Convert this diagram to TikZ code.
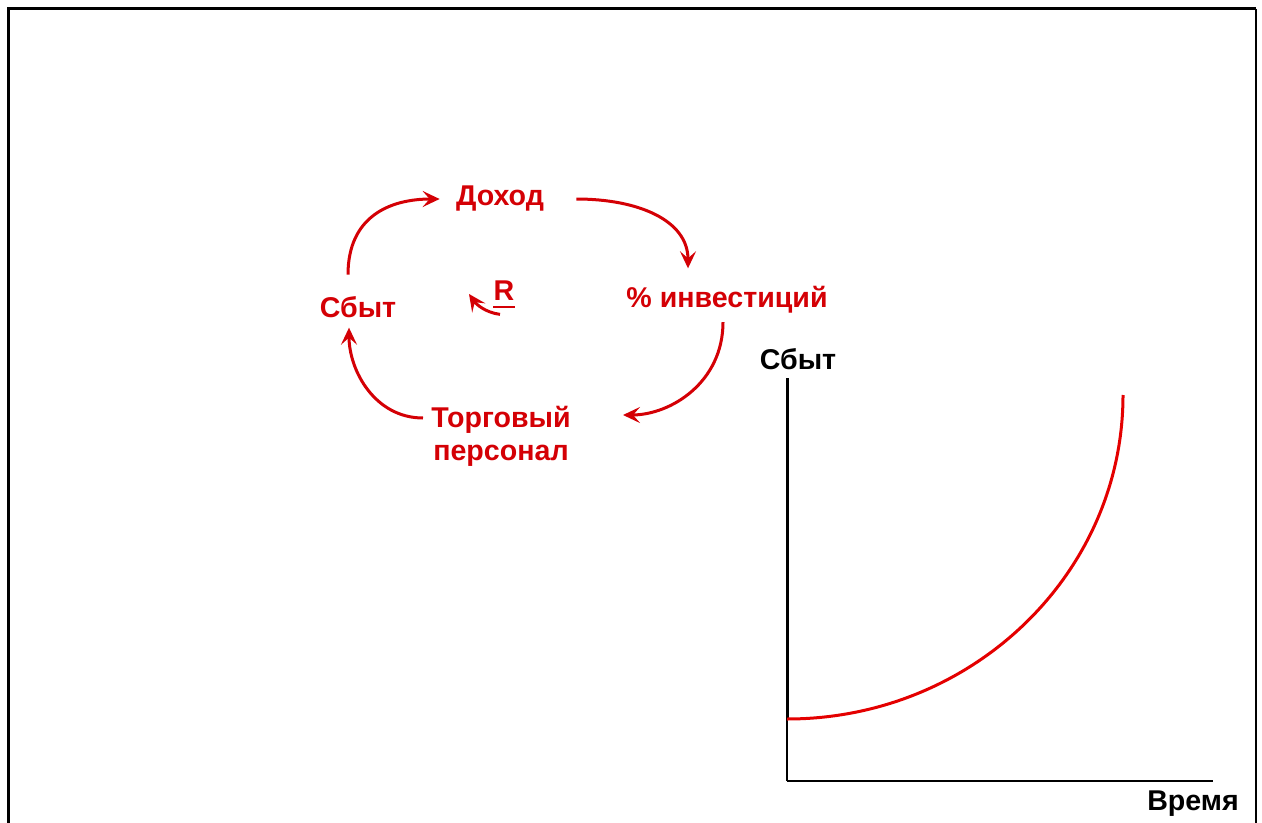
\documentclass[tikz,border=0pt]{standalone}
\usepackage{fontspec}
\setmainfont{Liberation Sans}
\usetikzlibrary{arrows.meta,positioning,calc}
\definecolor{looprd}{RGB}{212,0,5}
\definecolor{curverd}{RGB}{228,0,0}

\begin{document}
\begin{tikzpicture}[
        x=0.5pt, y=-0.5pt,
        var/.style={font=\bfseries\fontsize{14.3}{16.5}\selectfont, text=looprd, inner sep=0pt, align=center},
        axlabel/.style={font=\bfseries\fontsize{14.3}{16.5}\selectfont, inner sep=0pt, anchor=base},
        arrow/.style={-{Stealth[length=8.5pt,width=8pt,inset=3.5pt]}, line width=1.5pt, draw=looprd}
    ]
    \useasboundingbox (0,0) rectangle (1262,823);

    % frame
    \draw[line width=1.5pt] (8,823) -- (8,9) -- (1256,9);
    \draw[line width=1pt] (1256,9) -- (1256,823);

    % loop
    \node[var, anchor=base] (dohod) at (500,206) {Доход};
    \node[var, anchor=base] (sbyt) at (358,318) {Сбыт};
    \node[var, anchor=base] (invest) at (727,308) {\% инвестиций};
    \node[var] (torg) at (501,436) {Торговый\\персонал};
    \node[var, anchor=base] (loopR) at (504,300) {R};

    \draw[arrow] ([xshift=-5pt,yshift=11pt]sbyt.north) .. controls +(0,-58) and +(-50,0) .. ([xshift=-8pt]dohod.west);
    \draw[arrow] ([xshift=16pt]dohod.east) .. controls +(62,0) and +(0,-48) .. ([xshift=-19.5pt,yshift=9pt]invest.north);
    \draw[arrow] ([xshift=-2pt,yshift=-4pt]invest.south) .. controls +(0,60) and +(48,0) .. ([xshift=26pt,yshift=10.5pt]torg.east);
    \draw[arrow] ([xshift=-4pt,yshift=9pt]torg.west) .. controls +(-48,0) and +(0,43) .. ([xshift=-4.5pt,yshift=-4.5pt]sbyt.south);
    \draw[arrow] ([xshift=-2pt,yshift=-7pt]loopR.south) .. controls +(-15,-2) and +(7,10) .. ([xshift=-17.5pt,yshift=3pt]loopR.base);
    \draw[looprd, line width=1.2pt] ([yshift=-3.5pt]loopR.base west) -- ([yshift=-3.5pt]loopR.base east);

    % graph
    \coordinate (orig) at (787,781);
    \draw[line width=1.5pt] (787,378) -- (787,718);
    \draw[line width=0.6pt] (787,718) -- (orig);
    \draw[line width=1.2pt] (orig) -- (1213,781);
    \node[axlabel] (ylab) at (798,370) {Сбыт};
    \node[axlabel] (xlab) at (1193,810) {Время};
    \draw[curverd, line width=1.5pt] (787,719) .. controls (972,719) and (1123,574) .. (1123,395);

\end{tikzpicture}
\end{document}
